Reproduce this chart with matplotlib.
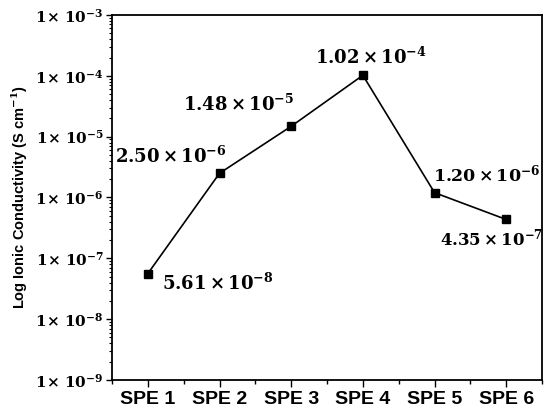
import matplotlib
matplotlib.use("Agg")
import matplotlib.pyplot as plt
from matplotlib.ticker import FixedLocator, FixedFormatter, LogLocator, MultipleLocator, NullFormatter

categories = ["SPE 1", "SPE 2", "SPE 3", "SPE 4", "SPE 5", "SPE 6"]
conductivity = [5.61e-8, 2.50e-6, 1.48e-5, 1.02e-4, 1.20e-6, 4.35e-7]
labels = [r"5.61\times10^{-8}", r"2.50\times10^{-6}", r"1.48\times10^{-5}",
          r"1.02\times10^{-4}", r"1.20\times10^{-6}", r"4.35\times10^{-7}"]
# label offsets in points (dx, dy), horizontal alignment, font size
offsets = [(10, -7, "left", 13), (5, 12, "right", 13), (2, 16, "right", 13),
           (6, 13, "center", 13), (-1, 13, "left", 12.5), (-11, -14, "center", 12)]
yexps = [-9, -8, -7, -6, -5, -4, -3]

plt.rcParams["mathtext.fontset"] = "dejavuserif"

fig = plt.figure(figsize=(5.5, 4.16), dpi=100)
ax = fig.add_axes([0.2036, 0.0865, 0.782, 0.8775])

x = list(range(1, len(categories) + 1))
ax.plot(x, conductivity, color="black", lw=1.2, marker="s", ms=6, mfc="black", mec="black")
ax.set_yscale("log")
ax.set_ylim(1e-9, 1e-3)
ax.set_xlim(0.5, 6.5)

ax.yaxis.set_major_locator(FixedLocator([10.0 ** e for e in yexps]))
ax.yaxis.set_major_formatter(FixedFormatter([r"$\mathbf{1\!\times\,10^{%d}}$" % e for e in yexps]))
ax.yaxis.set_minor_locator(LogLocator(base=10, subs=range(2, 10), numticks=20))
ax.yaxis.set_minor_formatter(NullFormatter())

ax.set_xticks(x)
ax.set_xticklabels(categories, fontfamily="Liberation Sans", fontweight="bold", fontsize=14)
ax.xaxis.set_minor_locator(MultipleLocator(0.5))

ax.tick_params(axis="y", which="major", direction="out", length=4, width=1, labelsize=11, pad=2)
ax.tick_params(axis="y", which="minor", direction="out", length=2, width=0.8)
ax.tick_params(axis="x", which="major", direction="out", length=5, width=1, pad=3)
ax.tick_params(axis="x", which="minor", direction="out", length=3, width=1)
for s in ax.spines.values():
    s.set_linewidth(1.3)

ax.set_ylabel(r"Log Ionic Conductivity (S cm$^{\mathbf{-1}}$)", fontfamily="Liberation Sans",
              fontweight="bold", fontsize=10.5, labelpad=4)

for xi, yi, lab, (dx, dy, ha, fs) in zip(x, conductivity, labels, offsets):
    ax.annotate(r"$\mathbf{%s}$" % lab, (xi, yi), xytext=(dx, dy), textcoords="offset points",
                ha=ha, va="center", fontsize=fs)

fig.savefig("out.png", dpi=100)
